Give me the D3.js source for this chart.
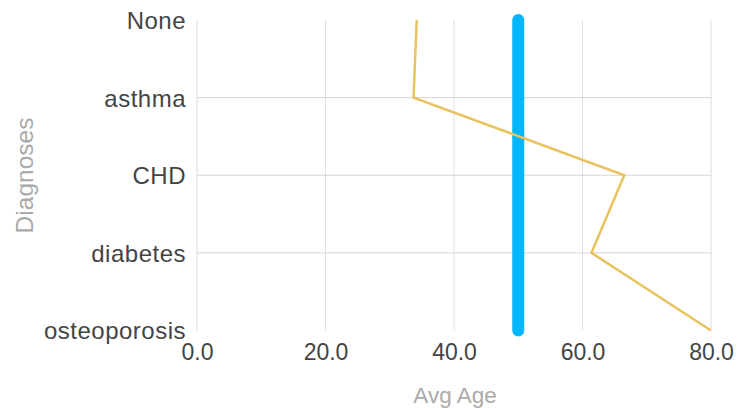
<!DOCTYPE html>
<html>
<head>
<meta charset="utf-8">
<script src="https://cdn.jsdelivr.net/npm/d3@7"></script>
<style>
  html, body { margin: 0; padding: 0; background: #fff; }
  svg { display: block; font-family: "Liberation Sans", Arial, sans-serif; }
</style>
</head>
<body>
<svg id="chart" width="738" height="408"></svg>
<script>
const categories = ["None", "asthma", "CHD", "diabetes", "osteoporosis"];
const avgAge = [34.2, 33.7, 66.5, 61.4, 80.0];
const referenceAge = 50;
const xTicks = [0, 20, 40, 60, 80];
const xTitle = "Avg Age";
const yTitle = "Diagnoses";

const svg = d3.select("#chart");
const x = d3.scaleLinear().domain([0, 80]).range([197, 711]);
const y = d3.scalePoint().domain(categories).range([20, 330.5]);

// grid
const grid = svg.append("g");
grid.selectAll("line.v").data(xTicks).enter().append("line")
  .attr("x1", d => x(d)).attr("x2", d => x(d))
  .attr("y1", y.range()[0]).attr("y2", y.range()[1])
  .attr("stroke", "#dedede").attr("stroke-width", 1);
grid.selectAll("line.h").data(categories.slice(1, -1)).enter().append("line")
  .attr("x1", x(0)).attr("x2", x(80))
  .attr("y1", d => y(d)).attr("y2", d => y(d))
  .attr("stroke", "#d6d6d6").attr("stroke-width", 1);

// axes
const xAxis = svg.append("g").attr("transform", `translate(0,${y.range()[1] + 10})`)
  .call(d3.axisBottom(x).tickValues(xTicks).tickFormat(d3.format(".1f")).tickSize(0));
xAxis.select(".domain").remove();
xAxis.selectAll("text").attr("font-size", 23).attr("fill", "#444")
  .attr("font-family", "'Liberation Sans', Arial, sans-serif").attr("dy", "0.71em");

const yAxis = svg.append("g").attr("transform", `translate(${x(0) - 11},0)`)
  .call(d3.axisLeft(y).tickSize(0).tickPadding(0));
yAxis.select(".domain").remove();
yAxis.selectAll("text").attr("font-size", 24).attr("letter-spacing", 0.5).attr("fill", "#444")
  .attr("font-family", "'Liberation Sans', Arial, sans-serif").attr("dy", "0.35em");

// titles
svg.append("text").attr("x", 455).attr("y", 403).attr("text-anchor", "middle")
  .attr("font-size", 22.5).attr("fill", "#aaa").text(xTitle);
svg.append("text").attr("transform", `translate(33,175.5) rotate(-90)`).attr("text-anchor", "middle")
  .attr("font-size", 24.5).attr("fill", "#aaa").text(yTitle);

// reference line (blue)
svg.append("line")
  .attr("x1", x(referenceAge)).attr("x2", x(referenceAge))
  .attr("y1", y(categories[0])).attr("y2", y(categories[categories.length - 1]))
  .attr("stroke", "#00b6fc").attr("stroke-width", 12).attr("stroke-linecap", "round");

// avg age line (yellow)
const line = d3.line().x(d => x(d.v)).y(d => y(d.c));
svg.append("path")
  .datum(categories.map((c, i) => ({ c, v: avgAge[i] })))
  .attr("d", line).attr("fill", "none")
  .attr("stroke", "#e8c25c").attr("stroke-width", 2.5);
</script>
</body>
</html>
